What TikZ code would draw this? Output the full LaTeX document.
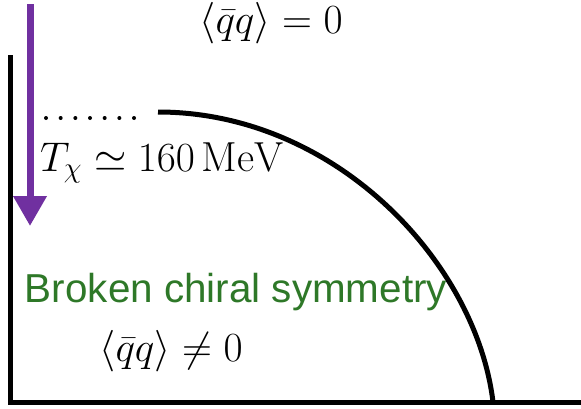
\documentclass[tikz,border=0pt]{standalone}
\usepackage{amsmath}
\usepackage{fontspec}
\newfontfamily\phasefont{Liberation Sans}
\usetikzlibrary{arrows.meta}
\definecolor{coolpurple}{RGB}{112,48,160}
\definecolor{phasegreen}{RGB}{46,120,40}

\begin{document}
\begin{tikzpicture}[x=.5pt,y=-.5pt,line width=2.5pt,font=\fontsize{21}{25}\selectfont]
\useasboundingbox (0,0) rectangle (581,408);
\coordinate (Ttop) at (10,55);\coordinate (O) at (10,402);\coordinate (mu) at (581,402);
\draw (Ttop)--(O)--(mu);
\coordinate (A) at (158,112);\coordinate (B) at (493,402);
\draw (A) .. controls (335,112) and (476,262) .. (B);
\foreach \i in {0,...,6} \fill (46+14.67*\i,118) circle (1pt);
\coordinate (cool) at (30,4);\coordinate (coolend) at (30,226);
\draw[coolpurple,line width=3.5pt,-{Triangle[width=16pt,length=15pt]}] (cool)--(coolend);
\node (qqzero) at (271,23) {$\langle\bar{q}q\rangle=0$};
\node (Tchi) at (162,163) {$T_\chi\simeq160\,\mathrm{MeV}$};
\node[text=phasegreen,font=\phasefont\fontsize{20.2}{24}\selectfont] (broken) at (236,292) {Broken chiral symmetry};
\node (qqnonzero) at (171,351) {$\langle\bar{q}q\rangle\neq0$};
\end{tikzpicture}
\end{document}
